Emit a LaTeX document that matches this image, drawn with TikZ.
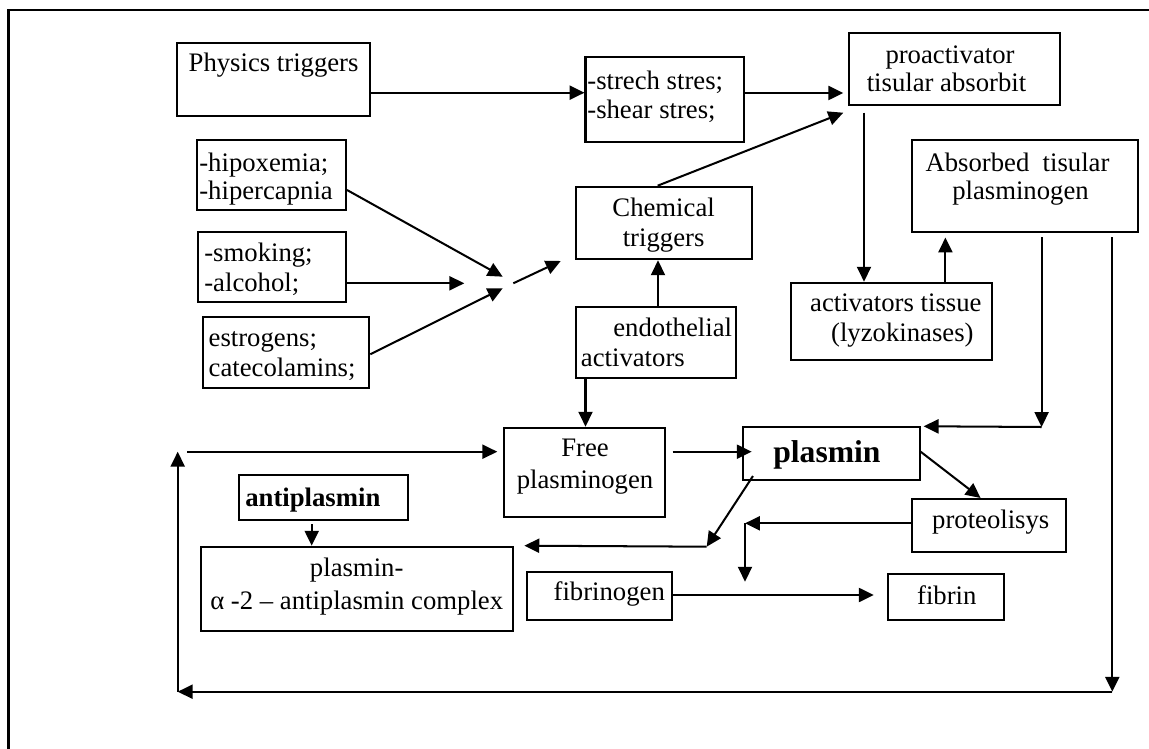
\documentclass[tikz,border=0pt]{standalone}
\usepackage{fontspec}
\setmainfont{Liberation Serif}
\usetikzlibrary{arrows.meta,fit,calc}
\begin{document}
\begin{tikzpicture}[x=0.02cm,y=-0.02cm,
  box/.style={draw, line width=1.15pt, inner sep=0pt},
  txt/.style={inner sep=0pt, font=\fontsize{15.2}{17}\selectfont},
  btxt/.style={inner sep=0pt, font=\fontsize{15.2}{17}\selectfont\bfseries},
  bigtxt/.style={inner sep=0pt, font=\fontsize{18}{20}\selectfont\bfseries},
  arr/.style={line width=1.15pt, -{Triangle[length=8.5pt,width=8pt]}},
  frameline/.style={line width=1.6pt}]
\useasboundingbox (0,0) rectangle (1149,749);
\fill[white] (0,0) rectangle (1149,749);
% outer frame (left and top edges only visible)
\draw[frameline] (8.4,770) -- (8.4,10) -- (1170,10);

% boxes
\node[box, fit={(177,43.3) (369.7,116)}] (phys) {};
\node[box, fit={(585.5,57.3) (743.7,141.7)}] (strech) {};
\node[box, fit={(849.3,33.3) (1060,105)}] (proact) {};
\node[box, fit={(197.3,140) (346,210)}] (hipox) {};
\node[box, fit={(198.3,231.7) (345.7,301.7)}] (smoke) {};
\node[box, fit={(202.7,317.3) (369.3,387.7)}] (estro) {};
\node[box, fit={(575.6,186.7) (751.7,259.3)}] (chem) {};
\node[box, fit={(575.6,307.3) (736,378.3)}] (endo) {};
\node[box, fit={(791.4,282.7) (992,360)}] (acttis) {};
\node[box, fit={(912,140) (1138,232)}] (absorb) {};
\node[box, fit={(504,427.7) (665,517.3)}] (free) {};
\node[box, fit={(743.3,427.3) (919.6,480)}] (plasmin) {};
\node[box, fit={(911.6,499) (1065.6,551.7)}] (prot) {};
\node[box, fit={(239,475) (407.7,520)}] (anti) {};
\node[box, fit={(200.7,546.7) (513.3,631)}] (complex) {};
\node[box, fit={(527.3,571.7) (671.8,620)}] (fibrinogen) {};
\node[box, fit={(887.8,574.3) (1004.4,620)}] (fibrin) {};

% texts
\node[txt, anchor=base west] (tphys) at (188.3,71.7) {Physics triggers};
\node[txt, anchor=base west] (tstr1) at (587,89.3) {-strech stres;};
\node[txt, anchor=base west] (tstr2) at (587,118.3) {-shear stres;};
\node[txt, anchor=base] (tpro1) at (950,63.3) {proactivator};
\node[txt, anchor=base] (tpro2) at (946.5,91.7) {tisular absorbit};
\node[txt, anchor=base west] (thip1) at (199,171.7) {-hipoxemia;};
\node[txt, anchor=base west] (thip2) at (199,200) {-hipercapnia};
\node[txt, anchor=base west] (tsmo1) at (204,261.7) {-smoking;};
\node[txt, anchor=base west] (tsmo2) at (204,291.7) {-alcohol;};
\node[txt, anchor=base west] (test1) at (208.3,346.7) {estrogens;};
\node[txt, anchor=base west] (test2) at (208.3,376.7) {catecolamins;};
\node[txt, anchor=base] (tche1) at (663.6,216.7) {Chemical};
\node[txt, anchor=base] (tche2) at (663.6,246.7) {triggers};
\node[txt, anchor=base west] (tend1) at (613,336.7) {endothelial};
\node[txt, anchor=base west] (tend2) at (580.6,366.7) {activators};
\node[txt, anchor=base west] (tact1) at (809.8,311.7) {activators tissue};
\node[txt, anchor=base west] (tact2) at (830.8,341.7) {(lyzokinases)};
\node[txt, anchor=base] (tabs1) at (1017.5,171.7) {Absorbed\ \ tisular};
\node[txt, anchor=base] (tabs2) at (1020.5,200) {plasminogen};
\node[txt, anchor=base] (tfre1) at (585,456.7) {Free};
\node[txt, anchor=base] (tfre2) at (585,488) {plasminogen};
\node[bigtxt, anchor=base west] (tpla) at (773,462.7) {plasmin};
\node[txt, anchor=base west] (tprot) at (931.8,528.3) {proteolisys};
\node[btxt, anchor=base west] (tanti) at (245,506) {antiplasmin};
\node[txt, anchor=base] (tcom1) at (356.7,576.7) {plasmin-};
\node[txt, anchor=base] (tcom2) at (356.7,609) {α -2 – antiplasmin complex};
\node[txt, anchor=base west] (tfbg) at (553.3,600) {fibrinogen};
\node[txt, anchor=base west] (tfbn) at (916.8,604) {fibrin};

% free-end coordinates
\coordinate (cvA) at (502.7,276.7);
\coordinate (cvB) at (502.7,288.3);
\coordinate (cvC) at (464.3,283.3);
\coordinate (cvD) at (513.3,283.3);
\coordinate (cvE) at (560.7,261);
\coordinate (c1) at (1041.6,427);
\coordinate (c2) at (1112.3,691.7);
\coordinate (c3) at (177.7,691.7);
\coordinate (c4) at (177.7,451.7);
\coordinate (c5) at (706.7,546.7);
\coordinate (c6) at (745,523.3);
\coordinate (c7) at (745,581.7);

% connectors
\draw[arr] (phys.east |- 0,92.7) -- (strech.west |- 0,92.7);
\draw[arr] (strech.east |- 0,93) -- ($(proact.west |- 0,93)+(-5,0)$);
\draw[arr] (chem.north -| 657.7,0) -- ($(proact.south west)+(-5,6.7)$);
\draw[arr] ($(proact.south -| 864,0)+(0,6.7)$) -- (acttis.north -| 864,0);
\draw[arr] (acttis.north -| 945.4,0) -- ($(absorb.south -| 945.4,0)+(0,4.5)$);
\draw[arr] (endo.north -| 658,0) -- (chem.south -| 658,0);
\draw[arr] (endo.south -| 585.5,0) -- (free.north -| 585.5,0);
\draw[arr] (hipox.east |- 0,190) -- (cvA);
\draw[arr] (smoke.east |- cvC) -- (cvC);
\draw[arr] (estro.east |- 0,354.3) -- (cvB);
\draw[arr] (cvD) -- (cvE);
\draw[arr] ($(absorb.south -| c1)+(0,4)$) -- (c1);
\draw[arr] (c1) -- ($(plasmin.north east)+(3,0)$);
\draw[arr] ($(absorb.south -| c2)+(0,4)$) -- (c2);
\draw[arr] (c2) -- (c3);
\draw[arr] (c3) -- (c4);
\draw[arr] ($(c4)+(9.6,0)$) -- ($(free.west |- c4)+(-5.7,0)$);
\draw[arr] ($(free.east |- 0,451.7)+(6.7,0)$) -- ($(plasmin.west |- 0,451.7)+(9.4,0)$);
\draw[arr] (plasmin.east |- 0,451.7) -- ($(prot.north west)+(70,0)$);
\draw[arr] ($(plasmin.south west)+(10.7,-5)$) -- (c5);
\draw[arr] (c5) -- ($(complex.north east)+(10,0)$);
\draw[arr] (prot.west |- c6) -- (c6);
\draw[arr] (c6) -- (c7);
\draw[arr] ($(anti.south -| 311.7,0)+(0,3.3)$) -- (complex.north -| 311.7,0);
\draw[arr] (fibrinogen.east |- 0,595) -- ($(fibrin.west |- 0,595)+(-13,0)$);
\end{tikzpicture}
\end{document}
